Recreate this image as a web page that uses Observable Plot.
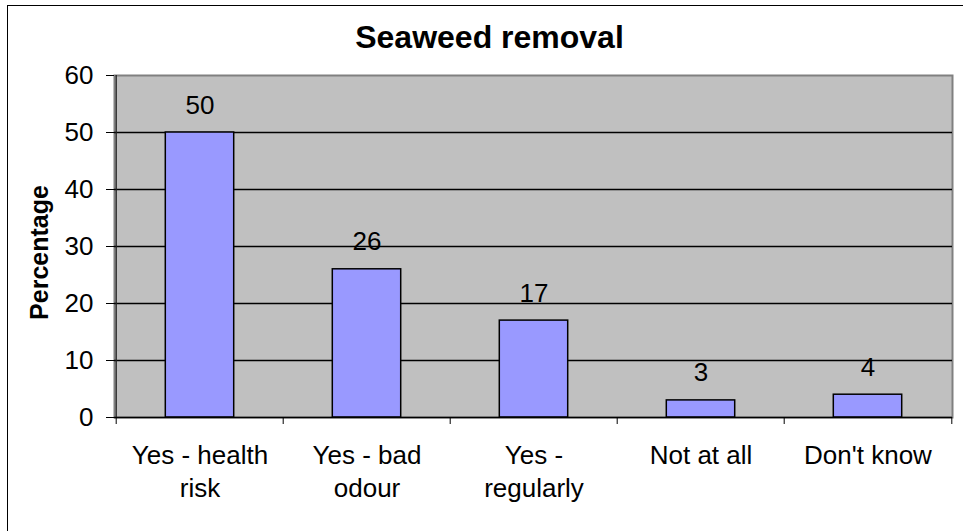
<!DOCTYPE html>
<html><head><meta charset="utf-8">
<script src="https://cdn.jsdelivr.net/npm/d3@7"></script>
<script src="https://cdn.jsdelivr.net/npm/@observablehq/plot@0.6"></script>
<style>
html,body{margin:0;padding:0;background:#fff;overflow:hidden;}
#wrap{position:relative;width:963px;height:531px;overflow:hidden;}
#border{position:absolute;left:7px;top:5px;width:965px;height:540px;border:1.5px solid #000;box-sizing:border-box;pointer-events:none;}
</style></head><body><div id="wrap"><div id="chart"></div><div id="border"></div></div>
<script>
const categories = ["Yes - health risk", "Yes - bad odour", "Yes - regularly", "Not at all", "Don't know"];
const tickLabels = ["Yes - health\nrisk", "Yes - bad\nodour", "Yes -\nregularly", "Not at all", "Don't know"];
const values = [50, 26, 17, 3, 4];
const yTicks = [0, 10, 20, 30, 40, 50, 60];
const gridTicks = [10, 20, 30, 40, 50];
const title = "Seaweed removal";
const yLabel = "Percentage";

const data = categories.map((c, i) => ({category: c, value: values[i], label: tickLabels[i]}));
const W = 963, H = 531, mL = 114, mR = 11, mT = 75, mB = 114;
const band = (W - mL - mR) / categories.length;
const barW = 69;
const inset = (band - barW) / 2;
const font = "'Liberation Sans', Arial, sans-serif";
const frameH = H - mT - mB;

const chart = Plot.plot({
  width: W, height: H, marginLeft: mL, marginRight: mR, marginTop: mT, marginBottom: mB,
  style: {fontFamily: font, fontSize: "26px", color: "#000", background: "transparent", overflow: "visible"},
  x: {domain: categories, padding: 0, axis: null},
  y: {domain: [0, 60], axis: null},
  marks: [
    Plot.frame({fill: "#C0C0C0", stroke: "#808080", strokeWidth: 2}),
    Plot.gridY(gridTicks, {stroke: "#000", strokeOpacity: 1, strokeWidth: 1.3}),
    Plot.barY(data, {x: "category", y: "value", fill: "#9999FF", stroke: "#000", strokeWidth: 1.5, insetLeft: inset, insetRight: inset}),
    Plot.ruleY([0], {stroke: "#000", strokeWidth: 1.3}),
    Plot.ruleX(categories.slice(0, 1), {x: d => d, dx: -band / 2, stroke: "#222", strokeWidth: 1.3}),
    Plot.ruleX(categories, {x: d => d, dx: -band / 2, insetTop: frameH, insetBottom: -7, stroke: "#000"}),
    Plot.ruleX(categories.slice(-1), {x: d => d, dx: band / 2, insetTop: frameH, insetBottom: -7, stroke: "#000"}),
    Plot.axisY({ticks: yTicks, tickSize: 8, tickPadding: 13, fontSize: 26, label: null, stroke: "#000"}),
    Plot.text(data, {x: "category", y: "value", text: d => String(d.value), lineAnchor: "bottom", dy: -19, fontSize: 26, fill: "#000"}),
    Plot.text(data, {x: "category", text: "label", frameAnchor: "bottom", lineAnchor: "top", dy: 22, lineHeight: 1.3, fontSize: 26, fill: "#000"}),
    Plot.text([title], {text: d => d, frameAnchor: "top", lineAnchor: "bottom", dy: -28, dx: -44, fontSize: 32, fontWeight: "bold", fill: "#000"}),
    Plot.text([yLabel], {text: d => d, frameAnchor: "left", textAnchor: "middle", rotate: -90, dx: -75, dy: 6, fontSize: 25, fontWeight: "bold", fill: "#000"})
  ]
});
document.getElementById("chart").append(chart);
</script></body></html>
